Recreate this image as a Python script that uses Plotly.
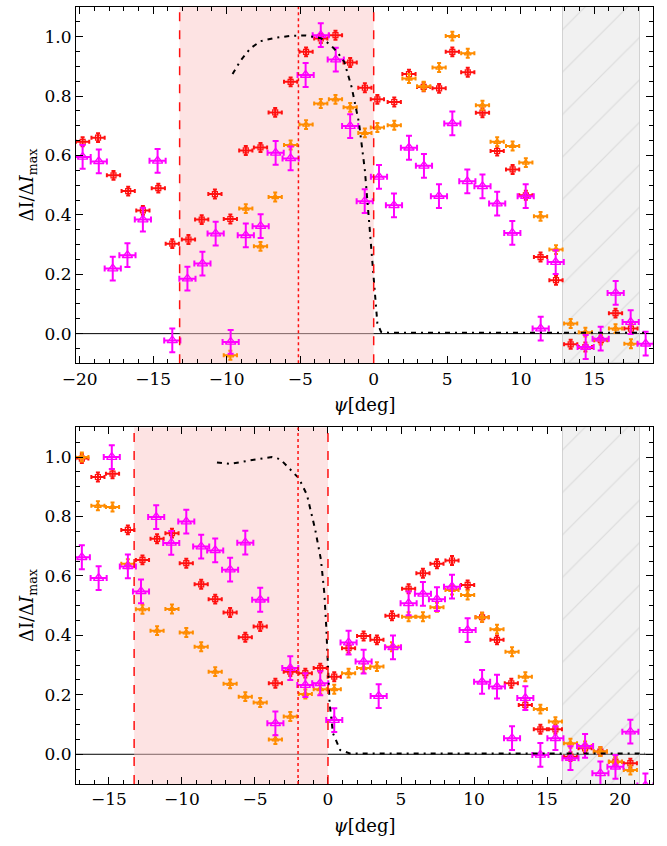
import plotly.graph_objects as go

# ---------------- data: top panel ----------------
top_red_x = [-19.8, -18.75, -17.7, -16.7, -15.7, -14.65, -13.7, -12.6, -11.7, -10.8, -9.75, -8.7, -7.7, -6.7,
             -5.65, -4.6, -3.6, -2.6, -1.6, -0.6, 0.25, 1.4, 2.4, 3.4, 4.45, 5.35, 6.4, 7.4, 8.4, 9.45,
             10.35, 11.35, 12.4, 13.4, 14.4, 15.45, 16.45, 17.5]
top_red_y = [0.646, 0.66, 0.533, 0.48, 0.415, 0.49, 0.303, 0.317, 0.384, 0.47, 0.386, 0.617, 0.627, 0.745,
             0.848, 0.949, 0.994, 1.005, 0.913, 0.828, 0.789, 0.78, 0.874, 0.831, 0.826, 0.949, 0.88, 0.744,
             0.615, 0.553, 0.466, 0.258, 0.18, -0.036, -0.045, -0.022, 0.069, 0.017]

top_orange_x = [-9.75, -8.7, -7.7, -6.7, -5.65, -4.6, -3.6, -2.6, -1.6, -0.6, 0.25, 1.4, 2.4, 3.4, 4.45, 5.35,
                6.4, 7.4, 8.4, 9.45, 10.35, 11.35, 12.4, 13.4, 14.4, 15.45, 16.45, 17.5]
top_orange_y = [-0.073, 0.421, 0.294, 0.46, 0.635, 0.704, 0.775, 0.789, 0.762, 0.676, 0.694, 0.702, 0.859,
                0.833, 0.896, 1.002, 0.944, 0.769, 0.646, 0.632, 0.576, 0.395, 0.283, 0.034, 0.005, -0.02,
                0.017, -0.034]

top_mag_x = [-19.8, -18.7, -17.75, -16.75, -15.7, -14.7, -13.7, -12.67, -11.65, -10.75, -9.73, -8.7, -7.69,
             -6.67, -5.65, -4.63, -3.6, -2.58, -1.6, -0.61, 0.36, 1.38, 2.4, 3.42, 4.44, 5.35, 6.37, 7.4, 8.4,
             9.43, 10.34, 11.36, 12.38, 14.42, 15.44, 16.46, 17.48, 18.5]
top_mag_y = [0.595, 0.58, 0.219, 0.264, 0.384, 0.582, -0.023, 0.185, 0.236, 0.337, -0.028, 0.331, 0.362,
             0.609, 0.59, 0.871, 1.005, 0.923, 0.699, 0.446, 0.528, 0.432, 0.626, 0.565, 0.463, 0.708, 0.513,
             0.496, 0.438, 0.339, 0.463, 0.017, 0.241, -0.045, -0.017, 0.137, 0.039, -0.034]

top_curve_x = [-9.6, -9.05, -8.4, -7.7, -6.7, -5.6, -4.6, -3.6, -3.0, -2.5, -2.0, -1.5, -1.0, -0.6, -0.3,
               0.0, 0.25, 0.5, 1.0, 2.0, 5.0, 10.0, 15.0, 18.6]
top_curve_y = [0.874, 0.92, 0.96, 0.985, 0.996, 1.003, 1.004, 0.995, 0.975, 0.95, 0.915, 0.83, 0.71, 0.55,
               0.37, 0.17, 0.035, 0.006, 0.003, 0.003, 0.003, 0.003, 0.003, 0.003]

# ---------------- data: bottom panel ----------------
bot_red_x = [-16.85, -15.75, -14.75, -13.7, -12.7, -11.7, -10.68, -9.7, -8.68, -7.72, -6.7, -5.66, -4.64,
             -3.6, -2.58, -1.55, -0.53, 0.43, 1.41, 2.44, 3.35, 4.38, 5.52, 6.5, 7.46, 8.49, 9.56, 10.55,
             11.57, 12.55, 13.51, 14.54, 15.57, 16.6, 17.6, 18.65, 19.68, 20.7]
bot_red_y = [0.995, 0.933, 0.944, 0.755, 0.654, 0.725, 0.744, 0.643, 0.572, 0.522, 0.477, 0.394, 0.43,
             0.239, 0.278, 0.273, 0.29, 0.261, 0.357, 0.398, 0.385, 0.466, 0.557, 0.609, 0.641, 0.652, 0.57,
             0.461, 0.385, 0.239, 0.166, 0.084, 0.084, -0.008, 0.02, 0.009, -0.025, -0.03]

bot_orange_x = [-16.85, -15.75, -14.75, -13.7, -12.7, -11.7, -10.68, -9.7, -8.68, -7.72, -6.7, -5.66, -4.64,
                -3.6, -2.58, -1.55, -0.53, 0.43, 1.41, 2.44, 3.35, 4.38, 5.52, 6.5, 7.46, 8.49, 9.56, 10.55,
                11.57, 12.6, 13.51, 14.54, 15.57, 16.6, 17.6, 18.65, 19.68, 20.7]
bot_orange_y = [1.0, 0.836, 0.832, 0.641, 0.488, 0.416, 0.489, 0.41, 0.362, 0.278, 0.237, 0.194, 0.174,
                0.05, 0.127, 0.203, 0.219, 0.219, 0.273, 0.29, 0.295, 0.362, 0.463, 0.463, 0.495, 0.553,
                0.536, 0.461, 0.421, 0.345, 0.261, 0.152, 0.11, 0.037, 0.028, 0.009, -0.025, -0.053]

bot_mag_x = [-16.85, -15.7, -14.8, -13.7, -12.8, -11.76, -10.73, -9.7, -8.68, -7.72, -6.7, -5.66, -4.64,
             -3.6, -2.58, -1.55, -0.53, 0.43, 1.41, 2.44, 3.47, 4.45, 5.52, 6.5, 7.46, 8.49, 9.56, 10.55,
             11.57, 12.6, 13.51, 14.54, 15.57, 16.6, 17.6, 18.65, 19.68, 20.7, 21.73]
bot_mag_y = [0.663, 0.593, 1.0, 0.632, 0.548, 0.798, 0.711, 0.783, 0.699, 0.686, 0.621, 0.712, 0.52,
             0.104, 0.29, 0.233, 0.239, 0.115, 0.376, 0.312, 0.196, 0.36, 0.508, 0.54, 0.522, 0.564, 0.418,
             0.244, 0.228, 0.054, 0.189, -0.002, 0.054, -0.013, 0.028, -0.064, -0.042, 0.076, -0.105]

bot_curve_x = [-7.6, -6.7, -5.3, -3.84, -3.27, -2.58, -2.0, -1.44, -0.87, -0.48, -0.25, -0.12, -0.03, 0.11,
               0.34, 0.84, 1.5, 5.0, 10.0, 15.0, 21.7]
bot_curve_y = [0.982, 0.977, 0.989, 1.0, 0.993, 0.96, 0.929, 0.873, 0.755, 0.654, 0.542, 0.43, 0.317, 0.172,
               0.071, 0.014, 0.003, 0.003, 0.003, 0.003, 0.003]

# error sizes
xerr_small = 0.45
yerr_small = 0.015
xerr_mag = 0.55
yerr_mag = 0.04

# region boundaries (x)
top_pink = (-13.2, 0.0)
top_dot = -5.12
top_grey = (12.88, 18.1)
bot_pink = (-13.27, 0.0)
bot_dot = -2.05
bot_grey = (16.07, 21.34)

top_xrange = [-20.25, 19.0]
bot_xrange = [-17.25, 22.25]
yrange = [-0.1, 1.1]

RED = "#ff1010"
ORANGE = "#ff8c00"
MAG = "#ff00ff"
FONT = "DejaVu Serif"

fig = go.Figure()


def add_panel(xa, ya, red_x, red_y, or_x, or_y, mg_x, mg_y, cx, cy, grey):
    # hatched grey region as a patterned bar
    fig.add_trace(go.Bar(
        x=[(grey[0] + grey[1]) / 2], y=[yrange[1] - yrange[0]], base=[yrange[0]],
        width=[grey[1] - grey[0]], xaxis=xa, yaxis=ya, showlegend=False, hoverinfo="skip",
        marker=dict(color="rgba(215,215,215,0.35)",
                    line=dict(color="rgba(200,200,200,0.8)", width=1),
                    pattern=dict(shape="/", fgcolor="rgba(185,185,185,0.8)",
                                 bgcolor="rgba(215,215,215,0.35)", size=30, solidity=0.04))))
    fig.add_trace(go.Scatter(
        x=red_x, y=red_y, mode="markers", xaxis=xa, yaxis=ya, showlegend=False,
        marker=dict(symbol="square-open", size=5, color=RED, line=dict(width=1.2, color=RED)),
        error_x=dict(type="constant", value=xerr_small, color=RED, thickness=2, width=2),
        error_y=dict(type="constant", value=yerr_small, color=RED, thickness=2, width=2)))
    fig.add_trace(go.Scatter(
        x=or_x, y=or_y, mode="markers", xaxis=xa, yaxis=ya, showlegend=False,
        marker=dict(symbol="triangle-up-open", size=6, color=ORANGE, line=dict(width=1.2, color=ORANGE)),
        error_x=dict(type="constant", value=xerr_small, color=ORANGE, thickness=2, width=2),
        error_y=dict(type="constant", value=yerr_small, color=ORANGE, thickness=2, width=2)))
    fig.add_trace(go.Scatter(
        x=mg_x, y=mg_y, mode="markers", xaxis=xa, yaxis=ya, showlegend=False,
        marker=dict(symbol="triangle-up-open", size=9, color=MAG, line=dict(width=1.3, color=MAG)),
        error_x=dict(type="constant", value=xerr_mag, color=MAG, thickness=2, width=3),
        error_y=dict(type="constant", value=yerr_mag, color=MAG, thickness=2, width=3)))
    fig.add_trace(go.Scatter(
        x=cx, y=cy, mode="lines", xaxis=xa, yaxis=ya, showlegend=False,
        line=dict(color="black", width=2, dash="5px,5px,2px,5px")))


add_panel("x", "y", top_red_x, top_red_y, top_orange_x, top_orange_y, top_mag_x, top_mag_y,
          top_curve_x, top_curve_y, top_grey)
add_panel("x2", "y2", bot_red_x, bot_red_y, bot_orange_x, bot_orange_y, bot_mag_x, bot_mag_y,
          bot_curve_x, bot_curve_y, bot_grey)

shapes = []
for xr, yr, pink, dot, xrange_ in [("x", "y", top_pink, top_dot, top_xrange),
                                   ("x2", "y2", bot_pink, bot_dot, bot_xrange)]:
    shapes.append(dict(type="line", xref=xr, yref=yr, x0=xrange_[0], x1=xrange_[1], y0=0, y1=0,
                       line=dict(color="black", width=1), layer="below"))
    shapes.append(dict(type="rect", xref=xr, yref=yr, x0=pink[0], x1=pink[1], y0=yrange[0], y1=yrange[1],
                       fillcolor="rgba(252,200,200,0.5)", line=dict(width=0), layer="below"))
    for xv in pink:
        shapes.append(dict(type="line", xref=xr, yref=yr, x0=xv, x1=xv, y0=yrange[0], y1=yrange[1],
                           line=dict(color=RED, width=1.5, dash="dash"), layer="above"))
    shapes.append(dict(type="line", xref=xr, yref=yr, x0=dot, x1=dot, y0=yrange[0], y1=yrange[1],
                       line=dict(color=RED, width=1.5, dash="dot"), layer="above"))

axis_common = dict(showline=True, linecolor="black", linewidth=1, mirror="allticks", ticks="inside",
                   ticklen=7, tickwidth=1, tickcolor="black", showgrid=False, zeroline=False,
                   automargin=False,
                   tickfont=dict(family=FONT, size=17, color="black"))

xtitle = dict(text="<i>ψ</i>[deg]", font=dict(family=FONT, size=18, color="black"), standoff=10)
ytitle = dict(text="ΔI/Δ<i>I</i><sub>max</sub>", font=dict(family=FONT, size=18, color="black"), standoff=6)

fig.update_layout(
    width=667, height=846, plot_bgcolor="white", paper_bgcolor="white",
    margin=dict(l=76, r=14, t=7, b=62), showlegend=False, bargap=0,
    font=dict(family=FONT, color="black"),
    shapes=shapes,
    xaxis=dict(axis_common, domain=[0, 1], anchor="y", range=top_xrange, dtick=5, tick0=0,
               minor=dict(ticks="inside", dtick=1, ticklen=4, tickcolor="black"), title=xtitle),
    yaxis=dict(axis_common, domain=[0.5414, 1], anchor="x", range=yrange, dtick=0.2, tick0=0,
               tickformat=".1f", minor=dict(ticks="inside", dtick=0.05, ticklen=4, tickcolor="black"),
               title=ytitle),
    xaxis2=dict(axis_common, domain=[0, 1], anchor="y2", range=bot_xrange, dtick=5, tick0=0,
                minor=dict(ticks="inside", dtick=1, ticklen=4, tickcolor="black"), title=xtitle),
    yaxis2=dict(axis_common, domain=[0, 0.459], anchor="x2", range=yrange, dtick=0.2, tick0=0,
                tickformat=".1f", minor=dict(ticks="inside", dtick=0.05, ticklen=4, tickcolor="black"),
                title=ytitle),
)

fig.write_html("out.html", config={"displayModeBar": False},
               post_script="document.body.style.margin='0';")
